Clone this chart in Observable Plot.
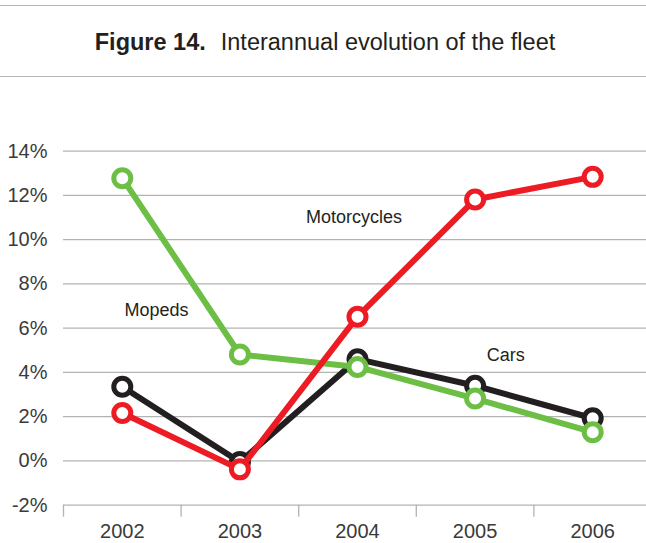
<!DOCTYPE html>
<html>
<head>
<meta charset="utf-8">
<script src="https://cdn.jsdelivr.net/npm/d3@7"></script>
<script src="https://cdn.jsdelivr.net/npm/@observablehq/plot@0.6"></script>
<style>
  html, body { margin: 0; padding: 0; background: #fff; }
  body { width: 646px; height: 543px; overflow: hidden; font-family: "Liberation Sans", Arial, sans-serif; }
  #head { height: 80px; padding-top: 5px; box-sizing: border-box; }
  #title {
    height: 70px; box-sizing: content-box;
    border-top: 1.5px solid #b5b5b5; border-bottom: 1.5px solid #b5b5b5;
    display: flex; align-items: center; justify-content: center;
    font-size: 23.5px; color: #231f20;
  }
  #title span { position: relative; top: 1px; left: 2px; }
  #title b { margin-right: 15px; }
  #chart svg { display: block; }
</style>
</head>
<body>
<div id="head"><div id="title"><span><b>Figure 14.</b>Interannual evolution of the fleet</span></div></div>
<div id="chart"></div>
<script>
const years = [2002, 2003, 2004, 2005, 2006];
const cars = [3.35, -0.05, 4.6, 3.4, 1.93];
const mopeds = [12.78, 4.81, 4.25, 2.82, 1.3];
const motorcycles = [2.17, -0.38, 6.52, 11.82, 12.84];
const seriesNames = ["Cars", "Mopeds", "Motorcycles"];
const seriesColors = ["#231f20", "#6cbf44", "#ed1c24"];
const yTicks = [-2, 0, 2, 4, 6, 8, 10, 12, 14];
const labelNames = ["Mopeds", "Motorcycles", "Cars"];
const labelYears = [2002.29, 2003.97, 2005.26];
const labelValues = [6.83, 11.0, 4.8];

const seriesValues = [cars, mopeds, motorcycles];
const bounds = years.map(y => y - 0.5).concat([years[years.length - 1] + 0.5]);
const labels = labelNames.map((n, i) => ({name: n, year: labelYears[i], value: labelValues[i]}));

const seriesMarks = [];
seriesValues.forEach((vals, i) => {
  const data = years.map((yr, j) => ({year: yr, value: vals[j], series: seriesNames[i]}));
  seriesMarks.push(Plot.line(data, {x: "year", y: "value", stroke: seriesColors[i], strokeWidth: 6, strokeLinejoin: "round", strokeLinecap: "round"}));
  seriesMarks.push(Plot.dot(data, {x: "year", y: "value", r: 8.5, stroke: seriesColors[i], strokeWidth: 5, fill: "white"}));
});

const chart = Plot.plot({
  width: 646,
  height: 463,
  marginTop: 70.7,
  marginBottom: 38.3,
  marginLeft: 63,
  marginRight: 0,
  style: {fontFamily: "'Liberation Sans', Arial, sans-serif", fontSize: "20px", color: "#3a3a3a", background: "white", overflow: "hidden"},
  x: {domain: [bounds[0], bounds[bounds.length - 1]], range: [63, 651]},
  y: {domain: [yTicks[0], yTicks[yTicks.length - 1]]},
  marks: [
    Plot.ruleY(yTicks, {stroke: "#b3b3b3", strokeWidth: 1.3}),
    Plot.axisX({ticks: bounds, tickSize: 12, tickFormat: () => "", stroke: "#b3b3b3", strokeWidth: 1.3, label: null}),
    Plot.axisX({ticks: years, tickSize: 0, tickPadding: 19, tickFormat: d => String(d), fontSize: 20, fill: "#3a3a3a", label: null}),
    Plot.axisY({ticks: yTicks, tickSize: 0, tickPadding: 16, tickFormat: d => d + "%", fontSize: 20, fill: "#3a3a3a", label: null}),
    ...seriesMarks,
    Plot.text(labels, {x: "year", y: "value", text: "name", fontSize: 18, fill: "#231f20"})
  ]
});
document.getElementById("chart").appendChild(chart);
</script>
</body>
</html>
